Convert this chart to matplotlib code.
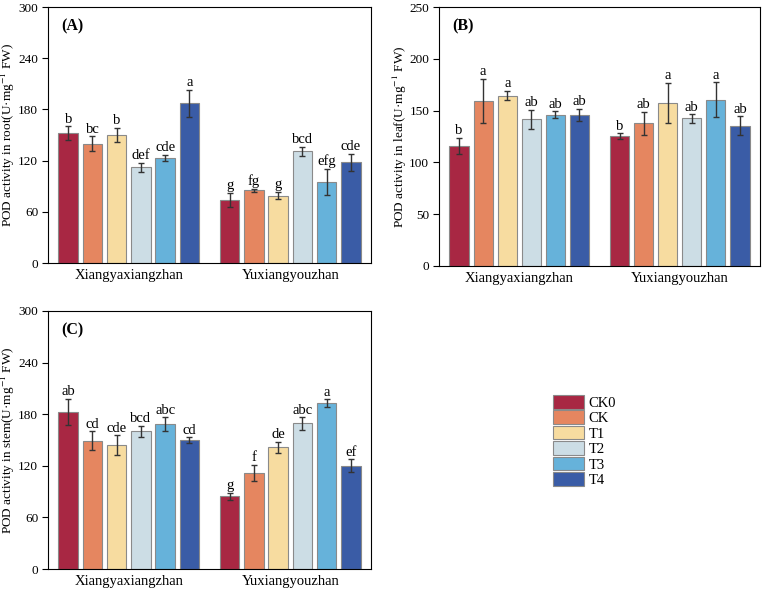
import matplotlib
matplotlib.use("Agg")
import matplotlib.pyplot as plt
import numpy as np
from matplotlib.patches import Patch

plt.rcParams['font.family'] = ['Liberation Serif', 'DejaVu Serif']
plt.rcParams['mathtext.fontset'] = 'stix'

cultivars = ["Xiangyaxiangzhan", "Yuxiangyouzhan"]
treatments = ["CK0", "CK", "T1", "T2", "T3", "T4"]
colors = ["#A82743", "#E58660", "#F7DCA0", "#CCDDE5", "#66B2DA", "#3A5CA6"]

# rows = treatments, cols = cultivars
root_mean = [[152, 74], [140, 85], [150, 79], [112, 131], [123, 95], [187, 118]]
root_err = [[8, 8.6], [8.6, 2], [8.6, 4], [5, 5.5], [4, 15], [16, 10]]
root_sig = [["b", "g"], ["bc", "fg"], ["b", "g"], ["def", "bcd"], ["cde", "efg"], ["a", "cde"]]

leaf_mean = [[116, 125.3], [159.5, 137.6], [164.5, 157.5], [141.5, 142.4], [146, 160.4], [146, 135.6]]
leaf_err = [[7.7, 2.7], [21, 11], [4.5, 19], [9.3, 3.9], [3.2, 17], [5.8, 8.9]]
leaf_sig = [["b", "b"], ["a", "ab"], ["a", "a"], ["ab", "ab"], ["ab", "a"], ["ab", "ab"]]

stem_mean = [[183, 84.8], [149.4, 111.5], [144, 141.3], [160, 169.2], [168.4, 192.8], [149.8, 120]]
stem_err = [[15, 4], [10.5, 9.5], [11.4, 6.6], [6.2, 7.2], [8, 4.3], [3.3, 7.5]]
stem_sig = [["ab", "g"], ["cd", "f"], ["cde", "de"], ["bcd", "abc"], ["abc", "a"], ["cd", "ef"]]

W, H = 771, 590
fig = plt.figure(figsize=(W / 100, H / 100), dpi=100)


def px_axes(l, t, r, b):
    return fig.add_axes([l / W, 1 - b / H, (r - l) / W, (b - t) / H])


def panel(ax, mean, err, sig, ymax, step, label, ylab, labx):
    x = np.arange(len(cultivars))
    n = len(treatments)
    gap, bw = 0.15, 0.12
    for i in range(n):
        xi = x + (i - (n - 1) / 2) * gap
        ax.bar(xi, mean[i], width=bw, color=colors[i], edgecolor="#8a8a8a",
               linewidth=0.8, zorder=2)
        ax.errorbar(xi, mean[i], yerr=err[i], fmt="none", ecolor="#333333",
                    elinewidth=1, capsize=2.5, capthick=1, zorder=3)
        for j in range(len(cultivars)):
            ax.annotate(sig[i][j], (xi[j], mean[i][j] + err[i][j]),
                        xytext=(0, 0.5), textcoords="offset points",
                        ha="center", va="bottom", fontsize=10.5)
    ax.set_xlim(-0.5, 1.5)
    ax.set_ylim(0, ymax)
    ax.set_yticks(np.arange(0, ymax + 1, step))
    ax.set_xticks(x)
    ax.set_xticklabels(cultivars, fontsize=10.5)
    ax.tick_params(axis="x", length=0, pad=4)
    ax.tick_params(axis="y", labelsize=9.5, direction="out", length=4, pad=3)
    ax.set_ylabel(ylab, fontsize=9.5)
    ax.yaxis.set_label_coords(labx, 0.5)
    ax.text(0.04, 0.955, label, transform=ax.transAxes, fontsize=11.5,
            fontweight="bold", ha="left", va="top")
    for s in ax.spines.values():
        s.set_linewidth(0.8)


ax1 = px_axes(48, 7, 371, 263)
panel(ax1, root_mean, root_err, root_sig, 300, 60, "(A)",
      "POD activity in root(U·mg$^{-1}$ FW)", -0.097)
ax2 = px_axes(439, 7, 760, 266)
panel(ax2, leaf_mean, leaf_err, leaf_sig, 250, 50, "(B)",
      "POD activity in leaf(U·mg$^{-1}$ FW)", -0.092)
ax3 = px_axes(48, 311, 371, 569)
panel(ax3, stem_mean, stem_err, stem_sig, 300, 60, "(C)",
      "POD activity in stem(U·mg$^{-1}$ FW)", -0.097)

handles = [Patch(facecolor=c, edgecolor="#8a8a8a", linewidth=0.8) for c in colors]
fig.legend(handles, treatments, loc="upper left",
           bbox_to_anchor=(553 / W, 1 - 395 / H), frameon=False,
           fontsize=10.5, handlelength=2.1, handleheight=1.05,
           labelspacing=0.05, handletextpad=0.35, borderpad=0, borderaxespad=0)

fig.savefig("out.png", dpi=100)
